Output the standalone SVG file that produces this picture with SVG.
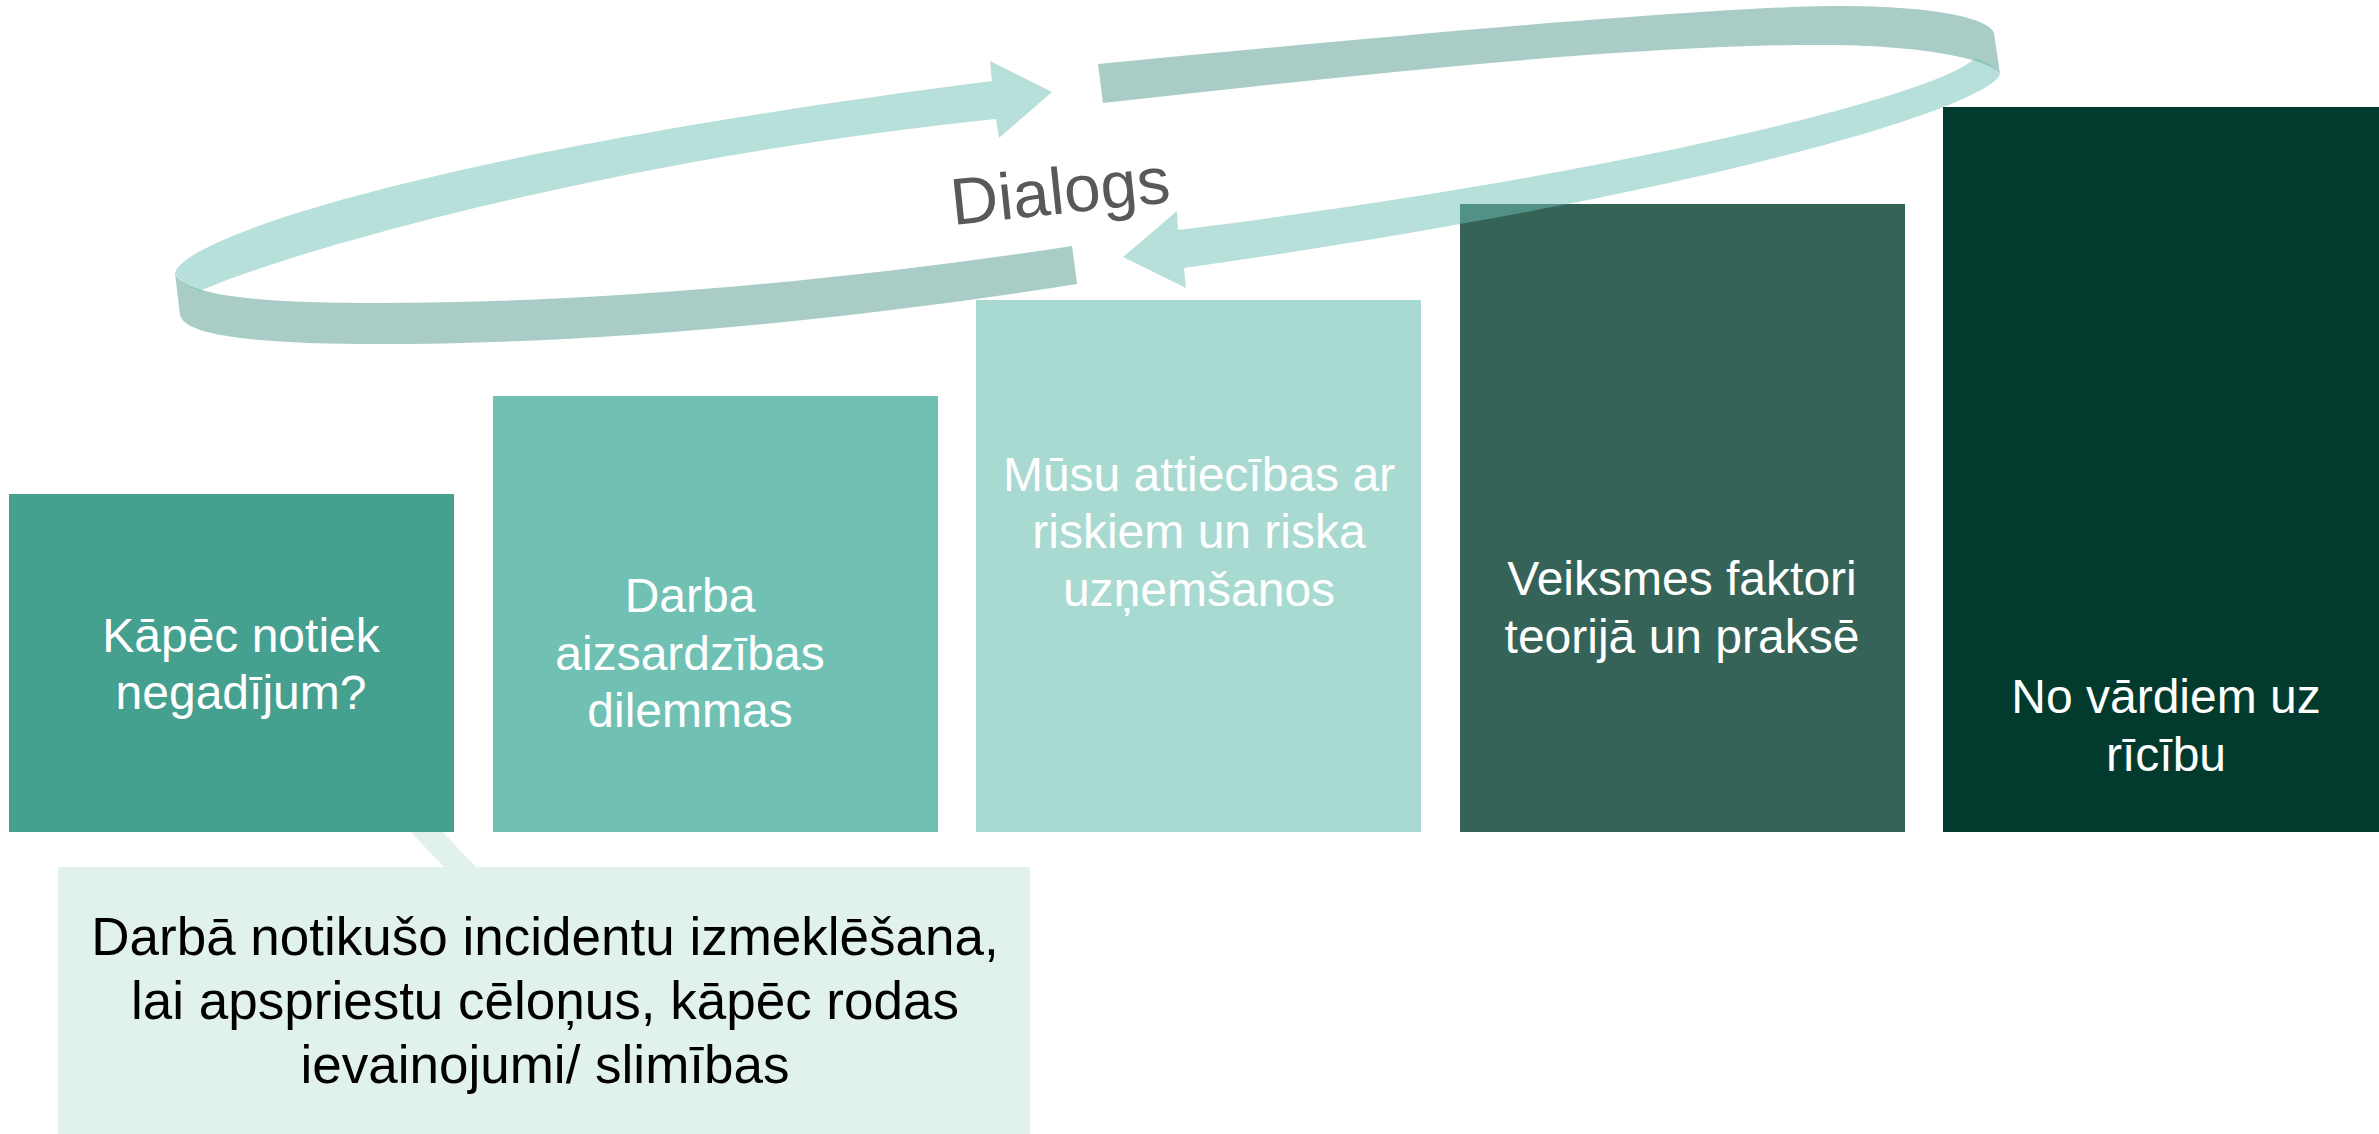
<svg xmlns="http://www.w3.org/2000/svg" width="2379" height="1134" viewBox="0 0 2379 1134">
<style>
.t{font-family:"Liberation Sans",Arial,sans-serif;font-size:48px;fill:#FFFFFF;text-anchor:middle}
.c{font-family:"Liberation Sans",Arial,sans-serif;font-size:53px;fill:#000000;text-anchor:middle}
.lt{fill:#6FC1B5;fill-opacity:0.5}
.dk{fill:#A9CDC6}
</style>
<rect width="2379" height="1134" fill="#FFFFFF"/>
<g id="callout">
<path d="M58,867 L444,867 L405,826 L437,826 L476,867 L1030,867 L1030,1134 L58,1134 Z" fill="#E1F1EE"/>
<text class="c"><tspan x="545" y="955">Darbā notikušo incidentu izmeklēšana,</tspan><tspan x="545" y="1019">lai apspriestu cēloņus, kāpēc rodas</tspan><tspan x="545" y="1083">ievainojumi/ slimības</tspan></text>
</g>
<g id="box1">
<rect x="9" y="494" width="445" height="338" fill="#46A08F"/>
<text class="t"><tspan x="241" y="652">Kāpēc notiek</tspan><tspan x="241" y="709">negadījum?</tspan></text>
</g>
<g id="box2">
<rect x="493" y="396" width="445" height="436" fill="#70C1B3"/>
<text class="t"><tspan x="690" y="612">Darba</tspan><tspan x="690" y="670">aizsardzības</tspan><tspan x="690" y="727">dilemmas</tspan></text>
</g>
<g id="box3">
<rect x="976" y="300" width="445" height="532" fill="#A8DAD2"/>
<text class="t"><tspan x="1199" y="491">Mūsu attiecības ar</tspan><tspan x="1199" y="548">riskiem un riska</tspan><tspan x="1199" y="606">uzņemšanos</tspan></text>
</g>
<g id="box4">
<rect x="1460" y="204" width="445" height="628" fill="#356357"/>
<text class="t"><tspan x="1682" y="595">Veiksmes faktori</tspan><tspan x="1682" y="653">teorijā un praksē</tspan></text>
</g>
<g id="connectors">
<path class="dk" d="M175,273 C185,295 250,303 380,303 C600,303 850,280 1072,246 L1077,284 C850,320 600,344 380,344 C250,344 185,335 180,315 Z"/>
<path class="lt" d="M175,273 C185,235 450,150 992,81 L990,61 L1052,92 L999,138 L996,119 C600,160 280,255 200,291 Q184,286 175,273 Z"/>
<path class="dk" d="M1098,64 C1400,35 1700,8 1830,6 C1930,5 1990,18 1994,33 L2000,74 C1990,60 1930,46 1830,45 C1650,44 1400,70 1103,103 Z"/>
<path class="lt" d="M2000,75 C1980,110 1700,195 1184,268 L1186,288 L1123,257 L1177,211 L1178,230 C1620,175 1940,95 1975,58 Q1993,63 2000,75 Z"/>
<text x="953" y="225" transform="rotate(-6 953 225)" font-family="'Liberation Sans',Arial,sans-serif" font-size="66" fill="#595959">Dialogs</text>
</g>
<g id="box5">
<rect x="1943" y="107" width="445" height="725" fill="#023B2E"/>
<text class="t"><tspan x="2166" y="713">No vārdiem uz</tspan><tspan x="2166" y="771">rīcību</tspan></text>
</g>
</svg>
